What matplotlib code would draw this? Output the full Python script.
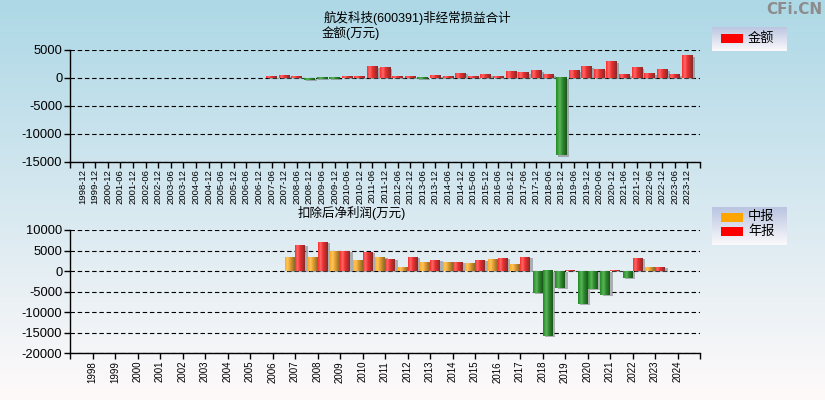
import numpy as np
import matplotlib
matplotlib.use('Agg')
import matplotlib.pyplot as plt
from matplotlib.patches import Rectangle
from matplotlib.colors import LinearSegmentedColormap

plt.rcParams['font.family'] = ['Liberation Sans', 'Noto Sans CJK SC']

# ---------------- 数据 ----------------
title_top = '航发科技(600391)非经常损益合计'
unit_top = '金额(万元)'
title_bottom = '扣除后净利润(万元)'

periods = ['1998-12', '1999-12', '2000-12', '2001-06', '2001-12', '2002-06', '2002-12',
           '2003-06', '2003-12', '2004-06', '2004-12', '2005-06', '2005-12', '2006-06',
           '2006-12', '2007-06', '2007-12', '2008-06', '2008-12', '2009-06', '2009-12',
           '2010-06', '2010-12', '2011-06', '2011-12', '2012-06', '2012-12', '2013-06',
           '2013-12', '2014-06', '2014-12', '2015-06', '2015-12', '2016-06', '2016-12',
           '2017-06', '2017-12', '2018-06', '2018-12', '2019-06', '2019-12', '2020-06',
           '2020-12', '2021-06', '2021-12', '2022-06', '2022-12', '2023-06', '2023-12']
amount = [None] * 15 + [240, 420, 240, -300, -240, -180, 240, 240, 2020, 1850, 240, 240,
                        -180, 420, 240, 830, 240, 595, 240, 1190, 980, 1340, 595, -13870,
                        1310, 2020, 1490, 2920, 595, 1850, 775, 1490, 595, 3990]

years = [str(y) for y in range(1998, 2025)]
interim = [None] * 9 + [3400, 3400, 4680, 2660, 3390, 970, 2180, 2180, 1940, 2900, 1690,
                        -5320, -4110, -7980, -5800, -1690, 730, None]
annual = [None] * 9 + [6290, 7020, 4840, 4600, 2900, 3390, 2660, 2180, 2660, 3150, 3390,
                       -15890, 240, -4350, 240, 3150, 970, None]

# ---------------- 颜色 ----------------
cm_red = LinearSegmentedColormap.from_list('r', [(0, '#ff2a2a'), (0.25, '#ff6a6a'), (0.5, '#ee3030'), (1, '#862a2a')])
cm_orange = LinearSegmentedColormap.from_list('o', [(0, '#ffa820'), (0.25, '#ffc860'), (0.5, '#e8a030'), (1, '#86682a')])
cm_green = LinearSegmentedColormap.from_list('g', [(0, '#1f8a1f'), (0.35, '#5cb45c'), (0.6, '#2e8b2e'), (1, '#1c561c')])
GRAD = np.linspace(0, 1, 64).reshape(1, -1)


def grad_bar(ax, x0, w, v, cmap, dx, dy):
    if v is None:
        return
    y0, y1 = min(0, v), max(0, v)
    ax.add_patch(Rectangle((x0 + dx, y0 - dy), w, y1 - y0, facecolor='#707070', alpha=0.5, lw=0, zorder=2.5))
    ax.imshow(GRAD, cmap=cmap, extent=(x0, x0 + w, y0, y1), aspect='auto', zorder=3, interpolation='bilinear')


def style_axes(ax, yticks, ylim, xlim, xticks, xlabels, xsize):
    ax.set_facecolor('none')
    for s in ['top', 'right']:
        ax.spines[s].set_visible(False)
    ax.spines['left'].set_linewidth(1)
    ax.spines['bottom'].set_linewidth(1)
    ax.set_yticks(yticks)
    ax.set_yticklabels([str(t) for t in yticks], fontsize=9.3)
    ax.set_xticks(xticks)
    ax.set_xticklabels(xlabels, rotation=90, fontsize=xsize)
    ax.set_xticks(list(xlim), minor=True)
    ax.tick_params(axis='both', which='both', direction='out', length=4, width=1, pad=1.5)
    ax.yaxis.grid(True, color='black', linestyle=(0, (4, 2.5)), linewidth=0.8)
    ax.set_axisbelow(True)
    ax.set_xlim(xlim)
    ax.set_ylim(ylim)


fig = plt.figure(figsize=(8.25, 4), dpi=100)

# 背景渐变
bg = fig.add_axes([0, 0, 1, 1], zorder=-10)
bg_cm = LinearSegmentedColormap.from_list('bg', ['#add8e6', '#d6e8f0', '#fffafa'])
bg.imshow(np.linspace(0, 1, 256).reshape(-1, 1), cmap=bg_cm, aspect='auto', extent=(0, 1, 0, 1))
bg.axis('off')

# ---------------- 上图 ----------------
ax1 = fig.add_axes([70 / 825, 1 - 161.7 / 400, 630 / 825, 111.7 / 400])
xi = np.arange(len(periods))
for i, v in zip(xi, amount):
    if v is None:
        continue
    grad_bar(ax1, i - 0.43, 0.86, v, cm_red if v >= 0 else cm_green, 0.15, 200)
style_axes(ax1, [5000, 0, -5000, -10000, -15000], (-15000, 5000), (-1, len(periods)), xi, periods, 6.8)

# ---------------- 下图 ----------------
ax2 = fig.add_axes([70 / 825, 1 - 353.3 / 400, 630 / 825, 123.3 / 400])
yi = np.arange(len(years))
for i, a, b in zip(yi, interim, annual):
    if a is not None:
        grad_bar(ax2, i - 0.44, 0.44, a, cm_orange if a >= 0 else cm_green, 0.12, 200)
    if b is not None:
        grad_bar(ax2, i, 0.44, b, cm_red if b >= 0 else cm_green, 0.12, 200)
style_axes(ax2, [10000, 5000, 0, -5000, -10000, -15000, -20000], (-20000, 10000),
           (-1, len(years)), yi, years, 7)

# ---------------- 标题 ----------------
fig.text(324 / 825, 1 - 18 / 400, title_top, fontsize=9, va='center', ha='left')
fig.text(322 / 825, 1 - 33 / 400, unit_top, fontsize=9, va='center', ha='left')
fig.text(298 / 825, 1 - 213 / 400, title_bottom, fontsize=9, va='center', ha='left')
fig.text(822 / 825, 1 - 10 / 400, 'CFi.CN', fontsize=11, fontweight='bold', color='#8c8c8c',
         va='center', ha='right', family='DejaVu Sans')

# ---------------- 图例 ----------------
leg_cm = LinearSegmentedColormap.from_list('lg', ['#fbf9fc', '#b9c4e0'])


def legend_box(rect, items):
    lax = fig.add_axes(rect)
    lax.imshow(np.linspace(0, 1, 64).reshape(-1, 1)[::-1], cmap=leg_cm, aspect='auto',
               extent=(0, 1, 0, 1), origin='upper')
    lax.set_xlim(0, 1)
    lax.set_ylim(0, 1)
    lax.axis('off')
    for (y0, h, color, label) in items:
        lax.add_patch(Rectangle((0.12, y0), 0.293, h, facecolor=color, lw=0))
        lax.text(0.48, y0 + h / 2, label, fontsize=9.5, va='center', ha='left')


legend_box([712 / 825, 1 - 51 / 400, 75 / 825, 24 / 400], [(0.35, 0.36, '#ff0000', '金额')])
legend_box([712 / 825, 1 - 245 / 400, 75 / 825, 38 / 400],
           [(0.613, 0.237, '#ffa500', '中报'), (0.245, 0.229, '#ff0000', '年报')])

fig.savefig('out.png', dpi=100)
